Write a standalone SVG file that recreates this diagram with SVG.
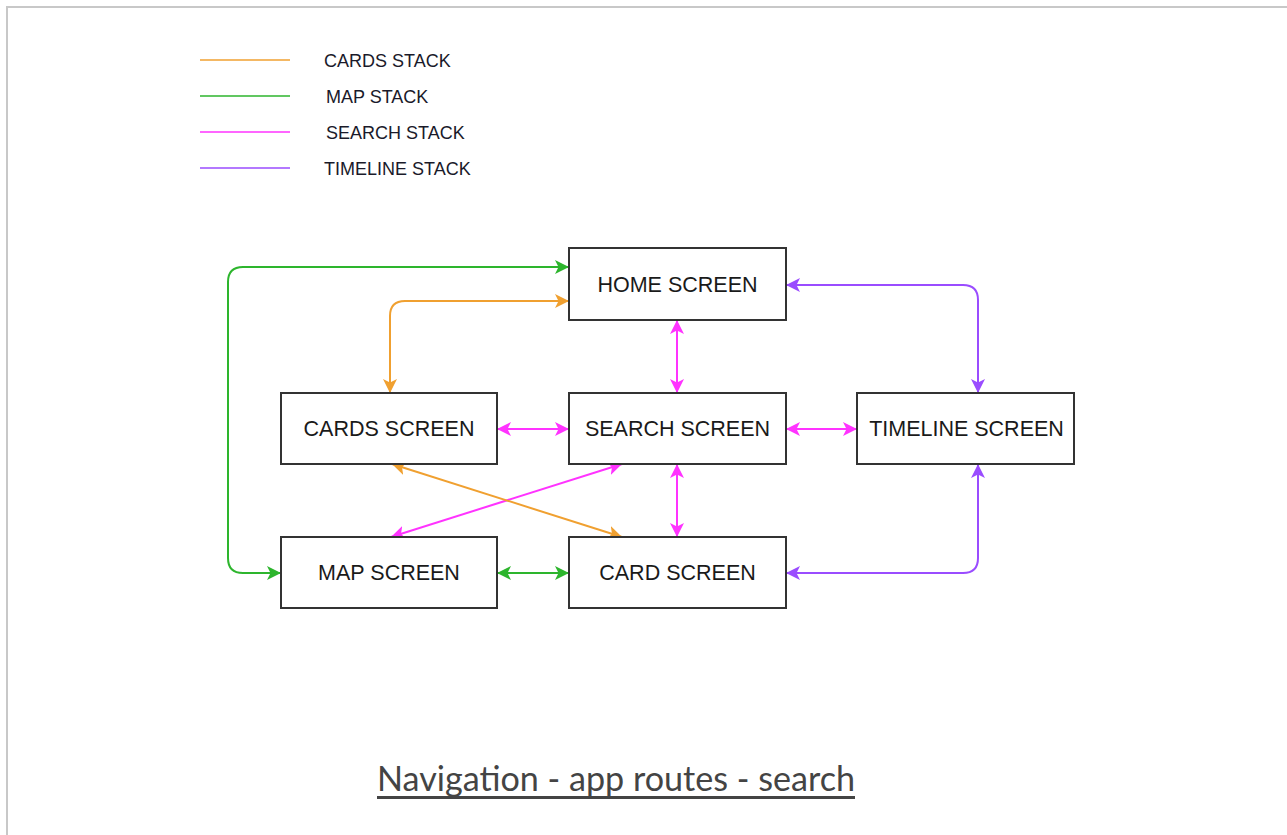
<svg xmlns="http://www.w3.org/2000/svg" width="1287" height="835" viewBox="0 0 1287 835">
<style>
.box{fill:#fff;stroke:#333;stroke-width:2}
.lbl{font-family:"Liberation Sans",Arial,sans-serif;font-size:21.5px;fill:#1a1a1a;text-anchor:middle}
.leg{font-family:"Liberation Sans",Arial,sans-serif;font-size:18px;fill:#1a1a2a}
.c{fill:none;stroke-width:2}
.or{stroke:#F0A030}.gr{stroke:#2DB52D}.mg{stroke:#FF33FF}.pu{stroke:#9A4CFF}
</style>
<defs>
<marker id="aor" markerUnits="userSpaceOnUse" markerWidth="15" markerHeight="14" refX="14" refY="7" orient="auto-start-reverse" viewBox="0 0 15 14"><path d="M0,0 L14,7 L0,14 L3.5,7 z" fill="#F0A030"/></marker>
<marker id="agr" markerUnits="userSpaceOnUse" markerWidth="15" markerHeight="14" refX="14" refY="7" orient="auto-start-reverse" viewBox="0 0 15 14"><path d="M0,0 L14,7 L0,14 L3.5,7 z" fill="#2DB52D"/></marker>
<marker id="amg" markerUnits="userSpaceOnUse" markerWidth="15" markerHeight="14" refX="14" refY="7" orient="auto-start-reverse" viewBox="0 0 15 14"><path d="M0,0 L14,7 L0,14 L3.5,7 z" fill="#FF33FF"/></marker>
<marker id="apu" markerUnits="userSpaceOnUse" markerWidth="15" markerHeight="14" refX="14" refY="7" orient="auto-start-reverse" viewBox="0 0 15 14"><path d="M0,0 L14,7 L0,14 L3.5,7 z" fill="#9A4CFF"/></marker>
</defs>
<rect width="1287" height="835" fill="#fff"/>
<g id="frame" fill="none" stroke="#c8c8c8" stroke-width="2">
<path d="M7,835 L7,7 L1287,7"/>
</g>
<g id="legend">
<line x1="200" y1="60" x2="290" y2="60" stroke="#F0A030" stroke-width="1.6"/>
<line x1="200" y1="96" x2="290" y2="96" stroke="#2DB52D" stroke-width="1.6"/>
<line x1="200" y1="132" x2="290" y2="132" stroke="#FF33FF" stroke-width="1.6"/>
<line x1="200" y1="168" x2="290" y2="168" stroke="#9A4CFF" stroke-width="1.6"/>
<text class="leg" x="324" y="67">CARDS STACK</text>
<text class="leg" x="326" y="103">MAP STACK</text>
<text class="leg" x="326" y="139">SEARCH STACK</text>
<text class="leg" x="324" y="175">TIMELINE STACK</text>
</g>
<g id="connectors">
<path class="c gr" d="M281,573 L243,573 Q228,573 228,558 L228,282 Q228,267 243,267 L569,267" marker-start="url(#agr)" marker-end="url(#agr)"/>
<path class="c or" d="M390,393 L390,316 Q390,301 405,301 L569,301" marker-start="url(#aor)" marker-end="url(#aor)"/>
<path class="c pu" d="M786,285 L963,285 Q978,285 978,300 L978,393" marker-start="url(#apu)" marker-end="url(#apu)"/>
<path class="c pu" d="M786,573 L963,573 Q978,573 978,558 L978,464" marker-start="url(#apu)" marker-end="url(#apu)"/>
<path class="c mg" d="M677,320 L677,393" marker-start="url(#amg)" marker-end="url(#amg)"/>
<path class="c mg" d="M497,429 L569,429" marker-start="url(#amg)" marker-end="url(#amg)"/>
<path class="c mg" d="M786,429 L857,429" marker-start="url(#amg)" marker-end="url(#amg)"/>
<path class="c mg" d="M677,464 L677,537" marker-start="url(#amg)" marker-end="url(#amg)"/>
<path class="c mg" d="M622,464 L391,537" marker-start="url(#amg)" marker-end="url(#amg)"/>
<path class="c or" d="M392,464 L622,537" marker-start="url(#aor)" marker-end="url(#aor)"/>
<path class="c gr" d="M497,573 L569,573" marker-start="url(#agr)" marker-end="url(#agr)"/>
</g>
<g id="home"><rect class="box" x="569" y="248" width="217" height="72"/><text class="lbl" x="677.5" y="292">HOME SCREEN</text></g>
<g id="cards"><rect class="box" x="281" y="393" width="216" height="71"/><text class="lbl" x="389" y="436">CARDS SCREEN</text></g>
<g id="search"><rect class="box" x="569" y="393" width="217" height="71"/><text class="lbl" x="677.5" y="436">SEARCH SCREEN</text></g>
<g id="timeline"><rect class="box" x="857" y="393" width="217" height="71"/><text class="lbl" x="966.5" y="436">TIMELINE SCREEN</text></g>
<g id="map"><rect class="box" x="281" y="537" width="216" height="71"/><text class="lbl" x="389" y="580">MAP SCREEN</text></g>
<g id="card"><rect class="box" x="569" y="537" width="217" height="71"/><text class="lbl" x="677.5" y="580">CARD SCREEN</text></g>
<g id="title">
<text x="377" y="791" font-family="Lato,'Open Sans',sans-serif" font-size="34" fill="#444" textLength="478" lengthAdjust="spacingAndGlyphs">Navigation - app routes - search</text>
<line x1="377" y1="797.5" x2="855" y2="797.5" stroke="#444" stroke-width="3"/>
</g>
</svg>
